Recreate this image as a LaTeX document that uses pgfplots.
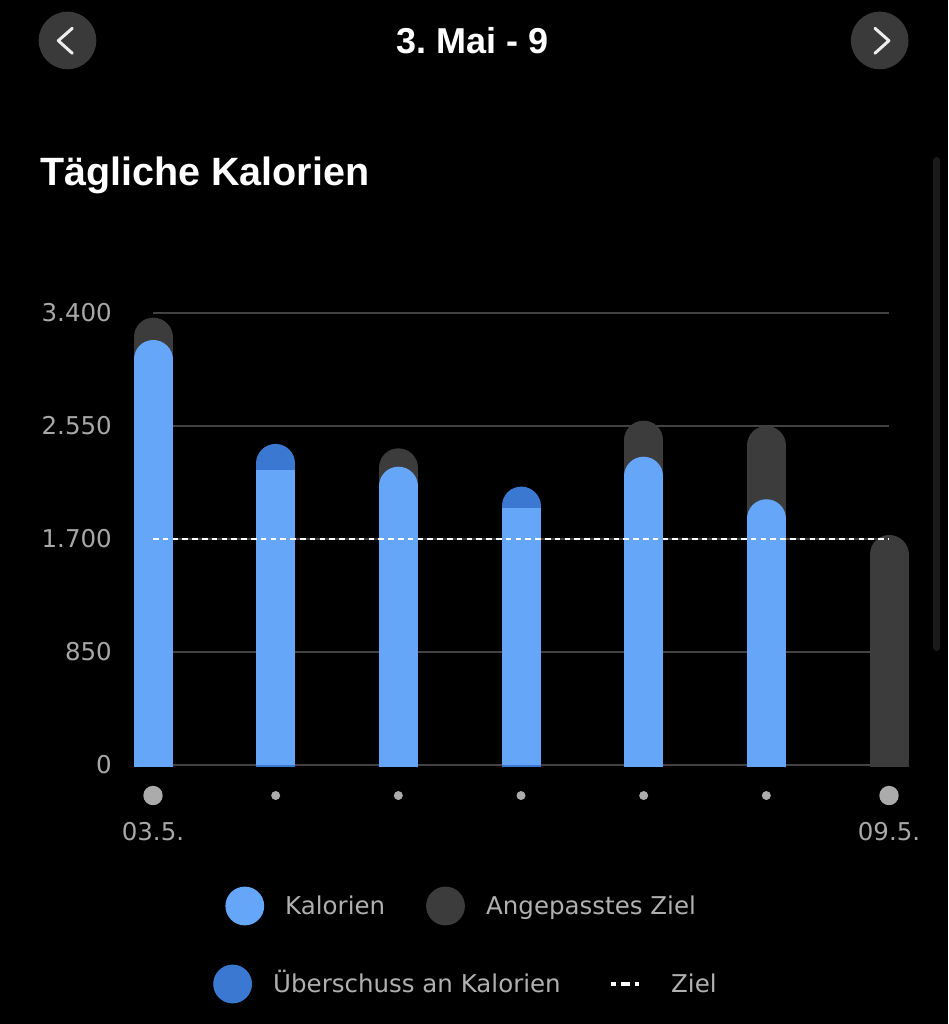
\documentclass[border=0pt]{standalone}
\usepackage{pgfplots}
\pgfplotsset{compat=1.18}
\usepackage{fontspec}
\setmainfont{DejaVu Sans}
\newfontfamily\hfont{Liberation Sans}
\frenchspacing
\definecolor{lb}{HTML}{66A6F8}
\definecolor{db}{HTML}{3B78D2}
\definecolor{gb}{HTML}{3C3C3C}
\definecolor{gridc}{HTML}{424242}
\definecolor{dotc}{HTML}{ABABAB}
\definecolor{labc}{HTML}{A8A8A8}
\definecolor{legc}{HTML}{B0B0B0}
\definecolor{navc}{HTML}{3A3A3A}
\definecolor{scrollc}{HTML}{1A1A1A}
\newcommand{\smallfont}{\fontsize{24.5pt}{28pt}\selectfont}
\newcommand{\xl}[2]{\tikz{\path (-10pt,-10pt) rectangle (10pt,10pt); \fill[dotc] (0pt,0pt) circle (#1); \node[anchor=base, inner sep=0pt, text=labc, font=\smallfont] at (0pt,-26pt) {#2};}}
\begin{document}
\begin{tikzpicture}[x=1pt,y=1pt]
\fill[black] (0,0) rectangle (948,1024);
% header
\fill[navc] (67.5,983.5) circle (28.8);
\fill[navc] (879.7,983.5) circle (28.8);
\draw[white!93!black, line width=3pt, line cap=round, line join=round] (72.3,995.7) -- (58.3,983.3) -- (72.3,970.7);
\draw[white!93!black, line width=3pt, line cap=round, line join=round] (874.9,995.7) -- (888.9,983.3) -- (874.9,970.7);
\node[anchor=base, inner sep=0pt, text=white, font=\hfont\bfseries\fontsize{36pt}{40pt}\selectfont] at (473,970.7) {3. Mai - 9};
\node[anchor=base west, inner sep=0pt, text=white, font=\hfont\bfseries\fontsize{39.5pt}{44pt}\selectfont] at (40,838) {Tägliche Kalorien};
\fill[scrollc, rounded corners=3.5pt] (933,373) rectangle (940,867);
\begin{axis}[
  at={(128.47pt,257.67pt)}, anchor=south west,
  scale only axis, width=785.07pt, height=459.97pt,
  xmin=-0.2, xmax=6.2, ymin=-10, ymax=3450,
  axis line style={draw=none}, major tick length=0pt,
  ytick={0,850,1700,2550,3400},
  yticklabel style={anchor=east, inner sep=0pt, xshift=-16.5pt, text=labc, font=\smallfont},
  /pgf/number format/.cd, 1000 sep={.}, assume math mode=true,
  /pgfplots/.cd,
  scaled y ticks=false,
  xtick={0,1,2,3,4,5,6},
  xticklabels={{\xl{9.7pt}{03.5.}},{\xl{4.5pt}{}},{\xl{4.5pt}{}},{\xl{4.5pt}{}},{\xl{4.5pt}{}},{\xl{4.5pt}{}},{\xl{9.7pt}{09.5.}}},
  xticklabel style={anchor=north, inner sep=0pt, yshift=-19pt},
  unbounded coords=jump,
  clip=true,
]
% grid lines
\addplot[gridc, line width=1.6pt, mark=none] coordinates {(0,0) (6,0)};
\addplot[gridc, line width=1.6pt, mark=none] coordinates {(0,850) (6,850)};
\addplot[gridc, line width=1.6pt, mark=none] coordinates {(0,1700) (6,1700)};
\addplot[gridc, line width=1.6pt, mark=none] coordinates {(0,2550) (6,2550)};
\addplot[gridc, line width=1.6pt, mark=none] coordinates {(0,3400) (6,3400)};
% adjusted goal (grey, rounded)
\addplot[gb, line width=39pt, line cap=round, yshift=-19.5pt, mark=none] coordinates {
 (0,0) (0,3365) (0,nan) (2,0) (2,2382) (2,nan) (4,0) (4,2590) (4,nan) (5,0) (5,2550) (5,nan) (6,0) (6,1730)};
% surplus (dark blue, rounded) = calories where above goal
\addplot[db, line width=39pt, line cap=round, yshift=-19.5pt, mark=none] coordinates {
 (1,0) (1,2415) (1,nan) (3,0) (3,2094)};
% calories (light blue, rounded)
\addplot[lb, line width=39pt, line cap=round, yshift=-19.5pt, mark=none] coordinates {
 (0,0) (0,3197) (0,nan) (2,0) (2,2244) (2,nan) (4,0) (4,2319) (4,nan) (5,0) (5,1999)};
% calories up to goal where surplus (light blue, flat)
\addplot[lb, line width=39pt, line cap=butt, mark=none] coordinates {
 (1,0) (1,2219) (1,nan) (3,0) (3,1931)};
% Ziel
\addplot[white, line width=2.5pt, dash pattern=on 5.5pt off 4.3pt, mark=none] coordinates {(0,1700) (6,1700)};
\end{axis}
% legend
\fill[lb] (244.8,118) circle (19.4);
\node[anchor=base west, inner sep=0pt, text=legc, font=\smallfont] at (285,109) {Kalorien};
\fill[gb] (445.5,118) circle (19.4);
\node[anchor=base west, inner sep=0pt, text=legc, font=\smallfont] at (486,109) {Angepasstes Ziel};
\fill[db] (232.6,40) circle (19.4);
\node[anchor=base west, inner sep=0pt, text=legc, font=\smallfont] at (273,31.3) {Überschuss an Kalorien};
\draw[white, line width=4pt, dash pattern=on 4.5pt off 5pt on 9pt off 5pt on 4.5pt off 10pt] (611,40) -- (639,40);
\node[anchor=base west, inner sep=0pt, text=legc, font=\smallfont] at (671,31.3) {Ziel};
\end{tikzpicture}
\end{document}
